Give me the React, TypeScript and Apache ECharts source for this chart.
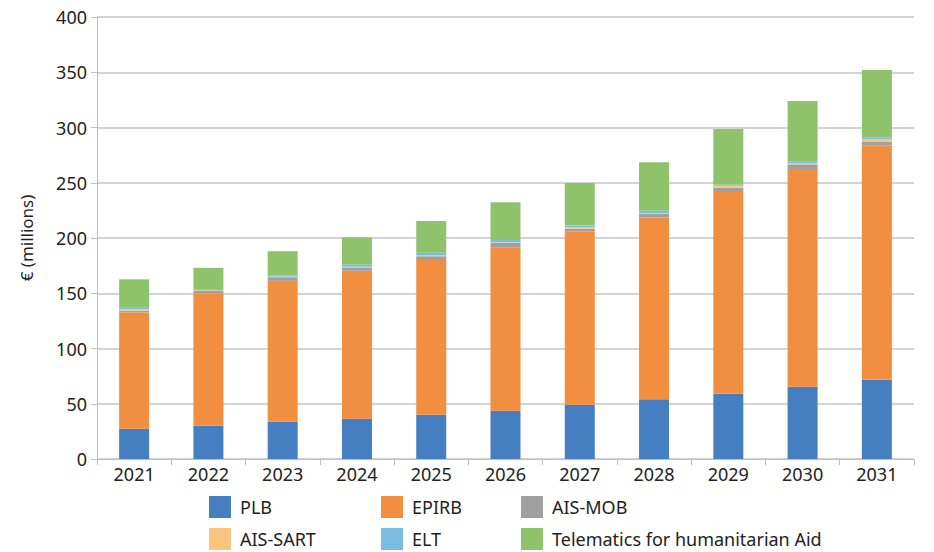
import React, { useEffect, useRef } from "react";
import * as echarts from "echarts";

const years = ["2021", "2022", "2023", "2024", "2025", "2026", "2027", "2028", "2029", "2030", "2031"];
const plb = [27.4, 30.1, 33.8, 36.5, 40.1, 43.7, 49.1, 54, 59.1, 65.4, 71.8];
const epirb = [105.2, 119.9, 127.4, 133.9, 139.9, 147.9, 156.6, 164.4, 183.4, 197, 212.2];
const aisMob = [1.5, 2.3, 3.3, 2.5, 3.5, 4, 2.7, 3.6, 3, 4.2, 3.3];
const aisSart = [1.5, 0.5, 0.5, 1, 0.7, 0.5, 1.3, 0.5, 1.8, 1.2, 2.4];
const elt = [1.2, 1, 1.3, 2, 2.5, 2.2, 1.5, 2.2, 1.2, 1.2, 1.5];
const telematics = [25.8, 19.2, 21.7, 24.7, 28.7, 34, 38.6, 43.8, 50.1, 55, 60.8];

const seriesDefs = [
  { name: "PLB", data: plb, color: "#457FC2" },
  { name: "EPIRB", data: epirb, color: "#F28E3F" },
  { name: "AIS-MOB", data: aisMob, color: "#A0A0A0" },
  { name: "AIS-SART", data: aisSart, color: "#F9C47B" },
  { name: "ELT", data: elt, color: "#79BEE0" },
  { name: "Telematics for humanitarian Aid", data: telematics, color: "#8FC36B" },
];

// legend layout: [name, left, top]
const legendSlots: [string, number, number][] = [
  ["PLB", 209, 496],
  ["EPIRB", 381, 496],
  ["AIS-MOB", 521, 496],
  ["AIS-SART", 209, 528],
  ["ELT", 381, 528],
  ["Telematics for humanitarian Aid", 521, 528],
];

const FONT = "Noto Sans";
const TXT = "#222";

export default function App() {
  const ref = useRef<HTMLDivElement>(null);
  useEffect(() => {
    if (!ref.current) return;
    const chart = echarts.init(ref.current, null, { renderer: "svg" });
    chart.setOption({
      animation: false,
      backgroundColor: "#fff",
      grid: { left: 97, right: 20, top: 17, bottom: 93, containLabel: false },
      legend: legendSlots.map(([name, left, top]) => ({
        left,
        top,
        padding: 0,
        itemWidth: 22,
        itemHeight: 22,
        icon: "rect",
        selectedMode: false,
        data: [name],
        textStyle: { fontFamily: FONT, fontSize: 18, color: TXT, padding: [0, 0, 0, 4] },
      })),
      xAxis: {
        type: "category",
        data: years,
        axisLine: { lineStyle: { color: "#bfbfbf", width: 1 } },
        axisTick: { show: true, length: 6, lineStyle: { color: "#bfbfbf" } },
        axisLabel: { fontFamily: FONT, fontSize: 18, color: TXT, margin: 6 },
      },
      yAxis: {
        type: "value",
        min: 0,
        max: 400,
        interval: 50,
        name: "€ (millions)",
        nameLocation: "middle",
        nameGap: 62,
        nameTextStyle: { fontFamily: FONT, fontSize: 17, color: TXT },
        axisLine: { show: true, lineStyle: { color: "#bfbfbf", width: 1 } },
        axisTick: { show: true, length: 6, lineStyle: { color: "#bfbfbf" } },
        axisLabel: { fontFamily: FONT, fontSize: 18, color: TXT, margin: 10 },
        splitLine: { lineStyle: { color: "#c4c4c4", width: 1.5 } },
      },
      series: seriesDefs.map((s) => ({
        name: s.name,
        type: "bar",
        stack: "total",
        barWidth: 30,
        data: s.data,
        itemStyle: { color: s.color },
      })),
    });
    return () => chart.dispose();
  }, []);
  return <div ref={ref} style={{ position: "fixed", left: 0, top: 0, width: 934, height: 552 }} />;
}
